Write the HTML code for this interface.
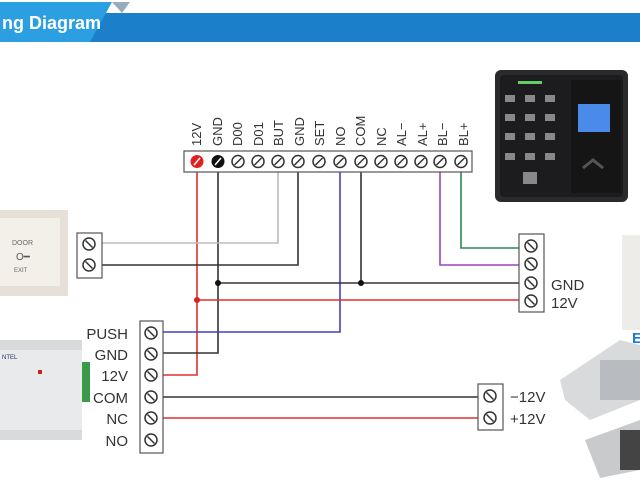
<!DOCTYPE html>
<html><head><style>
html,body{margin:0;padding:0;background:#fff;width:640px;height:480px;overflow:hidden}
svg{display:block}
text{font-family:"Liberation Sans",sans-serif}
</style></head><body>
<svg width="640" height="480" viewBox="0 0 640 480" xmlns="http://www.w3.org/2000/svg">
<defs>
<g id="s"><circle r="6" fill="#fff" stroke="#333" stroke-width="1.5"/><line x1="-3.5" y1="3.5" x2="3.5" y2="-3.5" stroke="#333" stroke-width="1.5"/></g>
<g id="h"><circle r="6" fill="#fff" stroke="#333" stroke-width="1.5"/><line x1="-3.5" y1="-3.5" x2="3.5" y2="3.5" stroke="#333" stroke-width="1.5"/></g>
</defs>
<!-- header -->
<rect x="0" y="13" width="640" height="29" fill="#1b7fc9"/>
<polygon points="0,2 112,2 90,42 0,42" fill="#2c9fe2"/>
<polygon points="112,2 130,2 122,13" fill="#9ab"/>
<text x="2" y="29" font-size="18" font-weight="bold" fill="#fff">ng Diagram</text>

<!-- top terminal labels -->
<g font-size="13" fill="#333" font-family="Liberation Mono">
<text transform="translate(201,146) rotate(-90)">12V</text>
<text transform="translate(222,146) rotate(-90)">GND</text>
<text transform="translate(242,146) rotate(-90)">D00</text>
<text transform="translate(263,146) rotate(-90)">D01</text>
<text transform="translate(283,146) rotate(-90)">BUT</text>
<text transform="translate(304,146) rotate(-90)">GND</text>
<text transform="translate(324,146) rotate(-90)">SET</text>
<text transform="translate(345,146) rotate(-90)">NO</text>
<text transform="translate(365,146) rotate(-90)">COM</text>
<text transform="translate(386,146) rotate(-90)">NC</text>
<text transform="translate(406,146) rotate(-90)">AL−</text>
<text transform="translate(427,146) rotate(-90)">AL+</text>
<text transform="translate(447,146) rotate(-90)">BL−</text>
<text transform="translate(468,146) rotate(-90)">BL+</text>
</g>

<!-- wires -->
<g fill="none" stroke-width="1.6">
<polyline points="197,172 197,375 162,375" stroke="#e03030"/>
<polyline points="218,172 218,353 162,353" stroke="#333"/>
<polyline points="278,172 278,243 100,243" stroke="#bbb"/>
<polyline points="298,172 298,265 100,265" stroke="#333"/>
<polyline points="340,172 340,332 162,332" stroke="#4040c0"/>
<line x1="361" y1="172" x2="361" y2="283" stroke="#333"/>
<polyline points="440,172 440,265 520,265" stroke="#a040c0"/>
<polyline points="461,172 461,248 520,248" stroke="#2a8a50"/>
<line x1="218" y1="283" x2="520" y2="283" stroke="#333"/>
<line x1="197" y1="300" x2="520" y2="300" stroke="#e03030"/>
<line x1="162" y1="397" x2="480" y2="397" stroke="#333"/>
<line x1="162" y1="418" x2="480" y2="418" stroke="#e03030"/>
</g>
<circle cx="218" cy="283" r="3" fill="#111"/>
<circle cx="361" cy="283" r="3" fill="#111"/>
<circle cx="197" cy="300" r="3" fill="#e02020"/>

<!-- top terminal block -->
<rect x="184" y="151" width="288" height="21" fill="#fff" stroke="#555" stroke-width="1.2"/>
<circle cx="197" cy="161.5" r="6.5" fill="#e02020"/><line x1="194" y1="165" x2="200" y2="158" stroke="#fff" stroke-width="1.5"/>
<circle cx="218" cy="161.5" r="6.5" fill="#111"/><line x1="215" y1="165" x2="221" y2="158" stroke="#fff" stroke-width="1.5"/>
<use href="#s" x="238" y="161.5"/><use href="#s" x="258" y="161.5"/><use href="#s" x="278" y="161.5"/>
<use href="#s" x="298" y="161.5"/><use href="#s" x="319" y="161.5"/><use href="#s" x="340" y="161.5"/>
<use href="#s" x="361" y="161.5"/><use href="#s" x="381" y="161.5"/><use href="#s" x="401" y="161.5"/>
<use href="#s" x="421" y="161.5"/><use href="#s" x="440" y="161.5"/><use href="#s" x="461" y="161.5"/>

<!-- exit block -->
<rect x="77" y="233" width="25" height="45" fill="#fff" stroke="#555" stroke-width="1.2"/>
<use href="#h" x="89" y="244"/><use href="#h" x="89" y="265"/>

<!-- right block -->
<rect x="519" y="234" width="25" height="78" fill="#fff" stroke="#555" stroke-width="1.2"/>
<use href="#h" x="531" y="246"/><use href="#h" x="531" y="264"/><use href="#h" x="531" y="283"/><use href="#h" x="531" y="301"/>
<g font-size="15" fill="#333"><text x="551" y="290">GND</text><text x="551" y="308">12V</text></g>

<!-- bottom block -->
<rect x="140" y="321" width="23" height="132" fill="#fff" stroke="#555" stroke-width="1.2"/>
<use href="#h" x="151" y="333"/><use href="#h" x="151" y="354"/><use href="#h" x="151" y="375"/>
<use href="#h" x="151" y="397"/><use href="#h" x="151" y="418"/><use href="#h" x="151" y="440"/>
<g font-size="15" fill="#333" text-anchor="end"><text x="128" y="339">PUSH</text><text x="128" y="360">GND</text><text x="128" y="381">12V</text><text x="128" y="403">COM</text><text x="128" y="424">NC</text><text x="128" y="446">NO</text></g>

<!-- lock block -->
<rect x="478" y="384" width="25" height="46" fill="#fff" stroke="#555" stroke-width="1.2"/>
<use href="#h" x="490" y="396"/><use href="#h" x="490" y="418"/>
<g font-size="15" fill="#333"><text x="510" y="402">−12V</text><text x="510" y="424">+12V</text></g>

<!-- fingerprint reader -->
<rect x="495" y="70" width="133" height="132" rx="6" fill="#2a2a2c"/>
<rect x="500" y="75" width="123" height="122" rx="4" fill="#1c1c1e"/>
<rect x="518" y="81" width="24" height="3" fill="#6c6"/>
<rect x="571" y="80" width="50" height="113" fill="#151515"/>
<rect x="578" y="104" width="32" height="28" fill="#4a8ae8"/>
<g fill="#888">
<rect x="505" y="95" width="10" height="7"/><rect x="525" y="95" width="10" height="7"/><rect x="545" y="95" width="10" height="7"/>
<rect x="505" y="114" width="10" height="7"/><rect x="525" y="114" width="10" height="7"/><rect x="545" y="114" width="10" height="7"/>
<rect x="505" y="133" width="10" height="7"/><rect x="525" y="133" width="10" height="7"/><rect x="545" y="133" width="10" height="7"/>
<rect x="505" y="153" width="10" height="7"/><rect x="525" y="153" width="10" height="7"/><rect x="545" y="153" width="10" height="7"/>
<rect x="523" y="172" width="14" height="12"/>
</g>
<path d="M583 168 l10 -8 l10 8" fill="none" stroke="#555" stroke-width="3"/>

<!-- exit button -->
<rect x="0" y="210" width="68" height="86" fill="#e6e0d8"/>
<rect x="0" y="218" width="60" height="68" fill="#f3f0ea"/>
<text x="12" y="245" font-size="7" fill="#666">DOOR</text>
<text x="16" y="260" font-size="10" fill="#555">O━</text>
<text x="14" y="272" font-size="6" fill="#666">EXIT</text>

<!-- controller -->
<rect x="0" y="340" width="82" height="100" fill="#d8dadc"/>
<rect x="0" y="350" width="82" height="80" fill="#e8eaeb"/>
<rect x="82" y="362" width="8" height="40" fill="#3a9a4a"/>
<rect x="38" y="370" width="4" height="4" fill="#c22"/>
<text x="2" y="359" font-size="6" fill="#236">NTEL</text>

<!-- lock -->
<polygon points="560,380 620,340 640,345 640,400 590,420 565,400" fill="#d8dadc"/>
<rect x="600" y="360" width="40" height="40" fill="#b8bcc0"/>
<polygon points="585,440 640,420 640,470 600,478" fill="#c8cacc"/>
<rect x="620" y="430" width="20" height="40" fill="#444"/>

<!-- right partial device -->
<rect x="622" y="235" width="18" height="95" fill="#eeece8"/>
<text x="632" y="343" font-size="15" font-weight="bold" fill="#1b7fc9">E</text>
</svg>
</body></html>
